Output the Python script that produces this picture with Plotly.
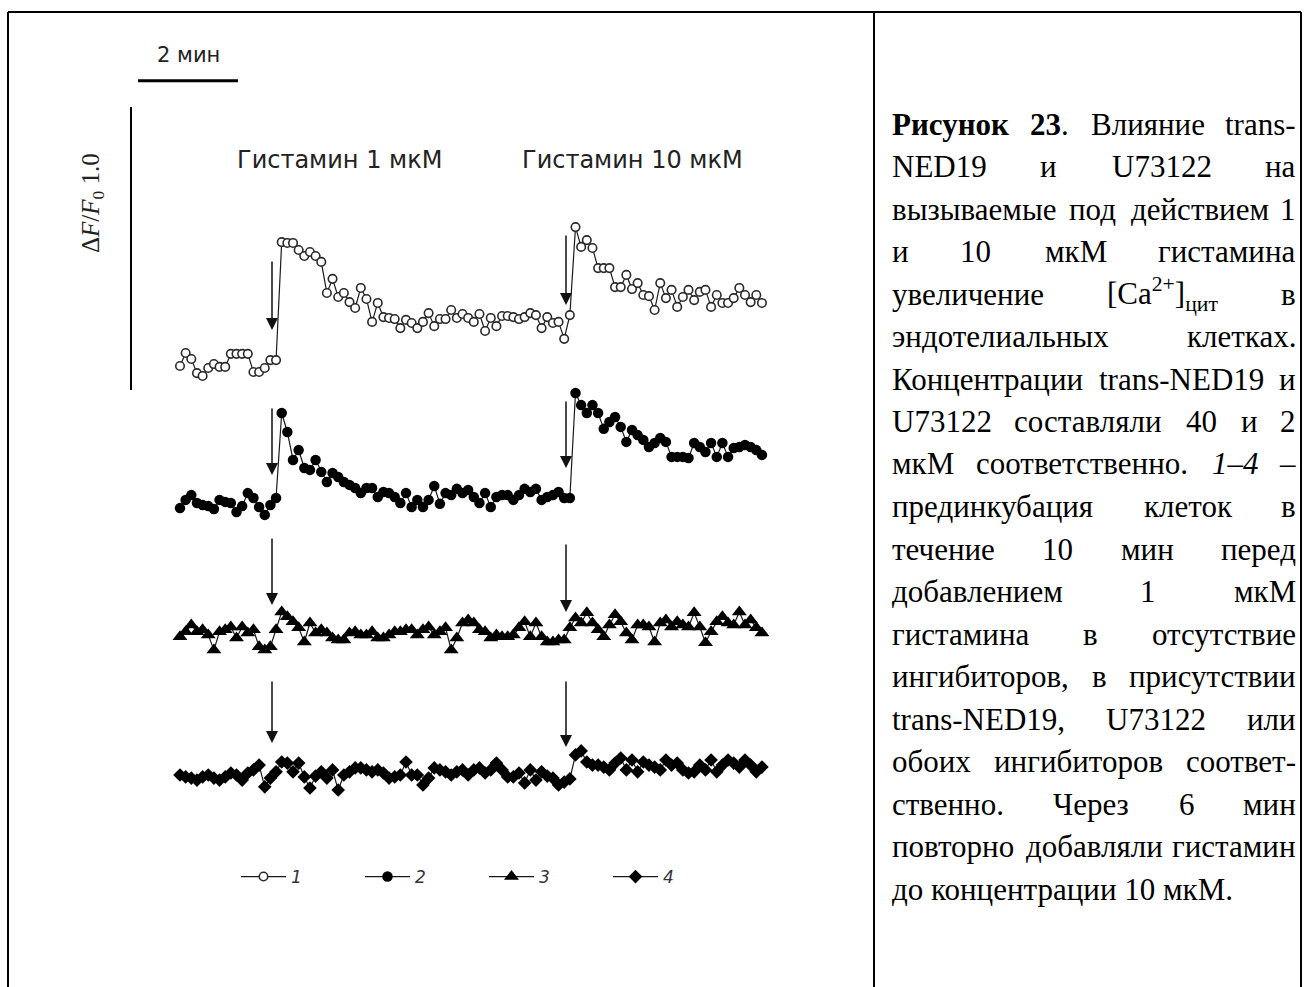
import re
import plotly.graph_objects as go

# ---------------- data ----------------
DT_MIN = 0.113          # sampling interval, min
STIM_TIMES = [1.84, 7.72]   # histamine additions, min

# ΔF/F0 relative to each trace's own baseline
trace1 = [0.014, 0.060, 0.039, -0.011, -0.021, 0.007, 0.021, 0.011, 0.011, 0.057, 0.057, 0.057, 0.057, -0.007, -0.007, 0.007, 0.035, 0.035,
          0.452, 0.449, 0.449, 0.424, 0.403, 0.417, 0.403, 0.382, 0.272, 0.322, 0.258, 0.272, 0.240, 0.219, 0.290, 0.251, 0.170, 0.237, 0.187, 0.184, 0.180, 0.148, 0.177, 0.166, 0.148, 0.170, 0.201, 0.155, 0.180, 0.180, 0.212, 0.184, 0.198, 0.184, 0.170, 0.198, 0.138, 0.184, 0.155, 0.191, 0.191,
          0.187, 0.180, 0.187, 0.201, 0.194, 0.148, 0.187, 0.166, 0.170, 0.110, 0.194,
          0.505, 0.435, 0.459, 0.431, 0.360, 0.360, 0.360, 0.293, 0.293, 0.336, 0.286, 0.307, 0.265, 0.261, 0.212, 0.307, 0.254, 0.283, 0.223, 0.258, 0.283, 0.247, 0.276, 0.283, 0.223, 0.265, 0.237, 0.237, 0.254, 0.290, 0.265, 0.240, 0.265, 0.237]

trace2 = [-0.011, 0.018, 0.035, 0.007, 0.0, -0.004, -0.014, 0.018, 0.011, 0.007, -0.025, -0.004, 0.042, 0.025, -0.007, -0.035, 0.0, 0.025,
          0.325, 0.258, 0.159, 0.194, 0.131, 0.124, 0.159, 0.117, 0.081, 0.113, 0.099, 0.081, 0.071, 0.060, 0.042, 0.060, 0.060, 0.028, 0.046, 0.042, 0.028, 0.007, 0.042, -0.007, 0.018, -0.007, 0.018, 0.067, 0.004, 0.042, 0.035, 0.057, 0.042, 0.053, 0.028, 0.007, 0.042, -0.007, 0.028, 0.035,
          0.035, 0.018, 0.035, 0.057, 0.046, 0.057, 0.018, 0.028, 0.035, 0.046, 0.025, 0.025,
          0.396, 0.353, 0.325, 0.353, 0.325, 0.269, 0.293, 0.311, 0.276, 0.223, 0.265, 0.247, 0.230, 0.205, 0.219, 0.237, 0.223, 0.170, 0.170, 0.170, 0.166, 0.219, 0.205, 0.187, 0.219, 0.170, 0.219, 0.170, 0.201, 0.205, 0.212, 0.205, 0.194, 0.177]

trace3 = [-0.007, 0.011, 0.035, 0.011, 0.018, 0.0, -0.053, 0.011, 0.018, 0.028, -0.011, 0.028, 0.007, 0.018, -0.042, -0.053, -0.042, 0.018,
          0.081, 0.064, 0.046, 0.025, -0.025, 0.042, 0.007, 0.018, 0.007, -0.011, -0.018, -0.018, 0.007, 0.011, 0.0, 0.0, 0.011, -0.011, -0.011, 0.0, 0.011, 0.011, 0.018, 0.018, 0.0, 0.018, 0.028, 0.0, 0.011, 0.025, -0.053, -0.011, 0.042, 0.053, 0.042, 0.018, 0.011, -0.011, 0.0, -0.007, -0.007, 0.0, 0.025, 0.046, -0.007, 0.042, -0.007, -0.025, -0.025, -0.018, -0.018, 0.025,
          0.060, 0.042, 0.078, 0.042, 0.018, -0.007, 0.035, 0.071, 0.046, 0.007, -0.018, 0.035, 0.035, 0.028, -0.025, 0.042, 0.053, 0.028, 0.046, 0.035, 0.028, 0.078, 0.028, -0.028, 0.011, 0.046, 0.064, 0.042, 0.035, 0.081, 0.035, 0.053, 0.025, 0.007]

trace4 = [0.0, -0.007, -0.011, -0.018, -0.007, 0.0, -0.011, -0.018, -0.007, 0.007, 0.0, -0.018, 0.007, 0.018, 0.035, -0.042, -0.011, 0.011,
          0.046, 0.042, 0.011, 0.042, -0.007, -0.046, -0.004, 0.011, -0.011, 0.018, -0.053, 0.0, 0.011, 0.025, 0.025, 0.018, 0.011, 0.018, 0.007, -0.011, -0.007, 0.0, 0.046, 0.0, 0.0, -0.035, -0.011, 0.025, 0.018, 0.011, 0.0, 0.011, 0.018, 0.0, 0.018, 0.025, 0.007, 0.018, 0.042, 0.018, -0.007, -0.007, 0.007, -0.028, 0.018, -0.018, 0.011, -0.004, -0.011, -0.035, -0.025, -0.014,
          0.071, 0.085, 0.046, 0.035, 0.035, 0.028, 0.018, 0.042, 0.060, 0.018, 0.053, 0.011, 0.046, 0.035, 0.028, 0.018, 0.053, 0.035, 0.042, 0.018, 0.007, 0.011, 0.035, 0.018, 0.053, 0.011, 0.035, 0.053, 0.042, 0.028, 0.053, 0.035, 0.011, 0.028]

series_names = ["1", "2", "3", "4"]
stim_labels = ["Гистамин 1 мкМ", "Гистамин 10 мкМ"]

# ---------------- layout constants ----------------
W, H = 1309, 987
PX_PER_MIN = 50.0
PX_PER_UNIT = 283.0
X0_PX, Y0_PX = 180.0, 370.0          # where t=0 / trace-1 baseline sit
X_RANGE = [(0 - X0_PX) / PX_PER_MIN, (W - X0_PX) / PX_PER_MIN]
Y_RANGE = [(Y0_PX - H) / PX_PER_UNIT, Y0_PX / PX_PER_UNIT]
OFFSETS = [0.0, -0.477, -0.936, -1.431]   # vertical stacking of the traces

# arrow tail / tip heights relative to each trace offset (first, second addition)
ARROWS = [
    [(0.389, 0.141), (0.481, 0.230)],
    [(0.346, 0.106), (0.371, 0.131)],
    [(0.346, 0.106), (0.325, 0.081)],
    [(0.336, 0.113), (0.336, 0.099)],
]

styles = [
    dict(symbol="circle", size=8.5, color="white", line=dict(color="#2a2a2a", width=1.6)),
    dict(symbol="circle", size=10.5, color="black", line=dict(color="black", width=0)),
    dict(symbol="triangle-up", size=13, color="black", line=dict(color="black", width=0)),
    dict(symbol="diamond", size=10.5, color="black", line=dict(color="black", width=0)),
]

fig = go.Figure()
for vals, off, name, mk in zip([trace1, trace2, trace3, trace4], OFFSETS, series_names, styles):
    t = [i * DT_MIN for i in range(len(vals))]
    fig.add_trace(go.Scatter(
        x=t, y=[v + off for v in vals], name=name, mode="lines+markers",
        line=dict(color="#1a1a1a", width=1.2), marker=mk,
    ))

annotations = []
# addition arrows
for off, pairs in zip(OFFSETS, ARROWS):
    for ts, (tail, tip) in zip(STIM_TIMES, pairs):
        annotations.append(dict(
            x=ts, y=off + tip, ax=ts, ay=off + tail, xref="x", yref="y", axref="x", ayref="y",
            text="", showarrow=True, arrowhead=2, arrowsize=1.6, arrowwidth=1.5,
            arrowcolor="#111", standoff=0,
        ))

def px_x(p):
    return p / W

def px_y(p):
    return 1 - p / H

def label(text, x, y, size, family, xanchor="center", **kw):
    return dict(x=px_x(x), y=px_y(y), xref="paper", yref="paper", text=text,
                xanchor=xanchor, yanchor="middle", showarrow=False,
                font=dict(family=family, size=size, color=kw.pop("color", "#222")), **kw)

SANS = "DejaVu Sans"
for lab, cx in zip(stim_labels, [340, 632]):
    annotations.append(label(lab, cx, 160, 24, SANS))

# scale bars
shapes = [
    dict(type="line", xref="x", yref="y", x0=-0.84, x1=-0.84 + 2.0, y0=1.022, y1=1.022,
         line=dict(color="black", width=3)),
    dict(type="line", xref="x", yref="y", x0=-0.98, x1=-0.98, y0=-0.071, y1=-0.071 + 1.0,
         line=dict(color="black", width=2)),
]
annotations.append(label("2 мин", 188, 55, 21, SANS))
annotations.append(label("Δ<i>F</i>/<i>F</i><sub>0</sub> 1.0", 93, 203, 25, "Liberation Serif",
                         textangle=-90))

# table frame
for x0, y0, x1, y1 in [(8, 12, 1301, 12), (8, 12, 8, H), (874, 12, 874, H), (1301, 12, 1301, H)]:
    shapes.append(dict(type="line", xref="paper", yref="paper", x0=px_x(x0), x1=px_x(x1),
                       y0=px_y(y0), y1=px_y(y1), line=dict(color="black", width=2)))

# caption, justified word by word
CAP = [
    ["<b>Рисунок</b>", "<b>23</b>.", "Влияние", "trans-"],
    ["NED19", "и", "U73122", "на"],
    ["вызываемые", "под", "действием", "1"],
    ["и", "10", "мкМ", "гистамина"],
    ["увеличение", "[Ca<sup>2+</sup>]<sub>цит</sub>", "в"],
    ["эндотелиальных", "клетках."],
    ["Концентрации", "trans-NED19", "и"],
    ["U73122", "составляли", "40", "и", "2"],
    ["мкМ", "соответственно.", "<i>1–4</i>", "–"],
    ["прединкубация", "клеток", "в"],
    ["течение", "10", "мин", "перед"],
    ["добавлением", "1", "мкМ"],
    ["гистамина", "в", "отсутствие"],
    ["ингибиторов,", "в", "присутствии"],
    ["trans-NED19,", "U73122", "или"],
    ["обоих", "ингибиторов", "соответ-"],
    ["ственно.", "Через", "6", "мин"],
    ["повторно", "добавляли", "гистамин"],
    ["до концентрации 10 мкМ."],
]

ADV = {" ": 250, ".": 250, ",": 250, "-": 333, "–": 500, "[": 333, "]": 333, "+": 564,
       "a": 444, "c": 444, "e": 444, "n": 500, "r": 333, "s": 389, "t": 278,
       "C": 667, "D": 722, "E": 611, "N": 722, "U": 722,
       "а": 444, "б": 509, "в": 472, "г": 410, "д": 509, "е": 444, "ж": 691, "з": 395, "и": 535,
       "й": 535, "к": 486, "л": 499, "м": 633, "н": 535, "о": 500, "п": 535, "р": 500, "с": 444,
       "т": 437, "у": 500, "ф": 648, "х": 500, "ц": 535, "ч": 503, "ш": 770, "щ": 770, "ъ": 517,
       "ы": 672, "ь": 456, "э": 429, "ю": 747, "я": 479,
       "В": 667, "К": 667, "М": 889, "Р": 556, "Ч": 650}

def word_width(html, size):
    total = 0.0
    for part in re.split(r"(<sup>.*?</sup>|<sub>.*?</sub>)", html):
        scale = 0.7 if part.startswith(("<sup>", "<sub>")) else 1.0
        bold = 1.06 if "<b>" in part else 1.0
        plain = re.sub(r"<[^>]+>", "", part)
        total += sum(ADV.get(ch, 500) for ch in plain) * scale * bold
    return total * size / 1000.0

FS = 31
LEFT, RIGHT = 890, 1298
SERIF = "Liberation Serif"
for i, words in enumerate(CAP):
    yc = 124 + 42.5 * i
    if len(words) == 1:
        annotations.append(label(words[0], LEFT, yc, FS, SERIF, xanchor="left", color="black"))
        continue
    widths = [word_width(w, FS) for w in words]
    gap = (RIGHT - LEFT - sum(widths)) / (len(words) - 1)
    pos = LEFT
    for j, (w, wd) in enumerate(zip(words, widths)):
        if j == 0:
            ax_, anc = LEFT, "left"
        elif j == len(words) - 1:
            ax_, anc = RIGHT, "right"
        else:
            ax_, anc = pos + wd / 2, "center"
        annotations.append(label(w, ax_, yc, FS, SERIF, xanchor=anc, color="black"))
        pos += wd + gap

fig.update_layout(
    width=W, height=H, margin=dict(l=0, r=0, t=0, b=0),
    paper_bgcolor="white", plot_bgcolor="white",
    xaxis=dict(range=X_RANGE, visible=False, fixedrange=True),
    yaxis=dict(range=Y_RANGE, visible=False, fixedrange=True),
    showlegend=True,
    legend=dict(orientation="h", x=px_x(236), y=px_y(877), xanchor="left", yanchor="middle",
                entrywidth=64, entrywidthmode="pixels", itemwidth=45,
                font=dict(family=SANS, size=17, style="italic", color="#333"),
                bgcolor="rgba(0,0,0,0)"),
    annotations=annotations, shapes=shapes,
)

fig.write_html("out.html")
